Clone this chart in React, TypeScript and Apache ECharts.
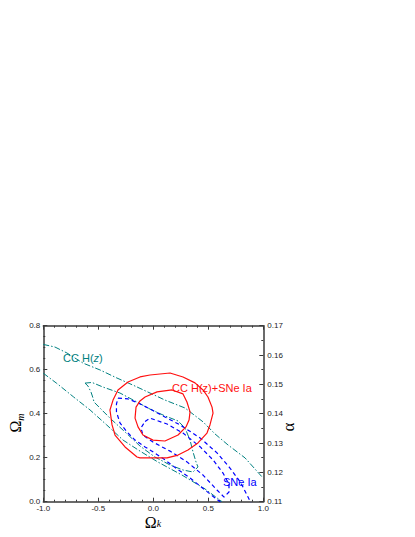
import React, { useEffect, useRef } from 'react';
import * as echarts from 'echarts';

type P = [number, number];

// Axis ranges / tick steps
const xRange: P = [-1.0, 1.0];
const yLeftRange: P = [0.0, 0.8];
const yRightRange: P = [0.11, 0.17];
const xStep = 0.5;
const yLeftStep = 0.2;
const yRightStep = 0.01;

// CC H(z)+SNe Ia contours (solid red)
const redOuter: P[] = [
  [-0.03, 0.576], [0.152, 0.585], [0.27, 0.567], [0.379, 0.54], [0.452, 0.508],
  [0.497, 0.476], [0.534, 0.43], [0.543, 0.403], [0.515, 0.349], [0.488, 0.312],
  [0.406, 0.267], [0.315, 0.235], [0.225, 0.212], [0.125, 0.199], [0.015, 0.199],
  [-0.121, 0.199], [-0.148, 0.203], [-0.257, 0.249], [-0.348, 0.303], [-0.375, 0.349],
  [-0.394, 0.417], [-0.366, 0.462], [-0.321, 0.508], [-0.23, 0.544], [-0.121, 0.567],
  [-0.03, 0.576],
];
const redInner: P[] = [
  [-0.075, 0.476], [0.034, 0.499], [0.17, 0.508], [0.27, 0.49], [0.306, 0.453],
  [0.334, 0.408], [0.325, 0.371], [0.297, 0.34], [0.225, 0.303], [0.106, 0.276],
  [-0.003, 0.28], [-0.094, 0.303], [-0.139, 0.34], [-0.166, 0.38], [-0.157, 0.43],
  [-0.121, 0.458], [-0.075, 0.476],
];

// CC H(z) contours (teal dash-dot)
const greenOuterUpper: P[] = [
  [-1.0, 0.715], [-0.894, 0.703], [-0.785, 0.676], [-0.639, 0.63], [-0.485, 0.599],
  [-0.33, 0.562], [-0.185, 0.53], [-0.03, 0.494], [0.106, 0.462], [0.288, 0.426],
  [0.452, 0.363], [0.561, 0.308], [0.679, 0.258], [0.834, 0.199], [0.997, 0.108],
];
const greenOuterLower: P[] = [
  [-1.0, 0.584], [-0.878, 0.538], [-0.727, 0.477], [-0.575, 0.417], [-0.424, 0.349],
  [-0.275, 0.28], [-0.121, 0.23], [0.043, 0.18], [0.261, 0.121], [0.47, 0.058],
  [0.625, 0.0],
];
const greenInner: P[] = [
  [-0.621, 0.539], [-0.557, 0.542], [-0.457, 0.521], [-0.303, 0.494], [-0.148, 0.453],
  [-0.03, 0.421], [0.106, 0.39], [0.225, 0.367], [0.288, 0.335], [0.334, 0.28],
  [0.361, 0.226], [0.388, 0.181], [0.406, 0.158], [0.361, 0.135], [0.27, 0.144],
  [0.152, 0.167], [0.015, 0.203], [-0.121, 0.253], [-0.257, 0.317], [-0.394, 0.38],
  [-0.539, 0.453], [-0.548, 0.471], [-0.566, 0.498], [-0.594, 0.526], [-0.621, 0.539],
];

// SNe Ia contours (blue dashed)
const blueOuter: P[] = [
  [-0.321, 0.471], [-0.23, 0.467], [-0.139, 0.449], [-0.012, 0.417], [0.106, 0.385],
  [0.243, 0.349], [0.425, 0.29], [0.579, 0.222], [0.697, 0.153], [0.797, 0.085],
  [0.861, 0.021], [0.897, -0.015], [0.652, -0.015], [0.606, 0.0], [0.47, 0.053],
  [0.334, 0.108], [0.215, 0.149], [0.106, 0.19], [0.015, 0.221], [-0.075, 0.249],
  [-0.166, 0.28], [-0.239, 0.317], [-0.303, 0.358], [-0.335, 0.408], [-0.335, 0.444],
  [-0.321, 0.471],
];
const blueInner: P[] = [
  [-0.075, 0.365], [-0.03, 0.38], [0.125, 0.353], [0.27, 0.312], [0.425, 0.25],
  [0.543, 0.19], [0.634, 0.13], [0.688, 0.08], [0.688, 0.044], [0.643, 0.021],
  [0.579, 0.053], [0.452, 0.121], [0.306, 0.181], [0.152, 0.23], [-0.003, 0.271],
  [-0.094, 0.303], [-0.112, 0.335], [-0.075, 0.365],
];

const RED = '#ff1010';
const BLUE = '#0000ff';
const TEAL = '#008080';
const AX = '#3a3a3a';

const labelFont = 'Liberation Sans, Arial, sans-serif';
const serif = 'Liberation Serif, Times New Roman, serif';

function axisCommon(split: number) {
  return {
    type: 'value' as const,
    axisLine: { show: true, onZero: false, lineStyle: { color: AX, width: 1.5 } },
    axisTick: { show: true, inside: true, length: 4, lineStyle: { color: AX, width: 1 } },
    minorTick: { show: true, splitNumber: split, length: 2, lineStyle: { color: AX, width: 1 } },
    splitLine: { show: false },
    minorSplitLine: { show: false },
  };
}

export default function App() {
  const ref = useRef<HTMLDivElement>(null);
  useEffect(() => {
    if (!ref.current) return;
    const chart = echarts.init(ref.current, undefined, { renderer: 'svg' });
    const lineSeries = (data: P[], color: string, type: any, width: number) => ({
      type: 'line',
      data,
      xAxisIndex: 0,
      yAxisIndex: 0,
      symbol: 'none',
      showSymbol: false,
      smooth: false,
      clip: true,
      silent: true,
      lineStyle: { color, width, type },
    });
    const dashDot = [6, 2, 1.5, 2];
    const dashed = [4, 3];
    chart.setOption({
      animation: false,
      backgroundColor: '#ffffff',
      grid: { left: 43.3, top: 325.7, width: 220, height: 176, containLabel: false },
      xAxis: [
        {
          ...axisCommon(5),
          position: 'bottom',
          min: xRange[0],
          max: xRange[1],
          interval: xStep,
          axisLabel: {
            show: true, fontSize: 8, color: '#222', margin: 3, fontFamily: labelFont,
            showMinLabel: true, showMaxLabel: true,
            formatter: (v: number) => v.toFixed(1),
          },
        },
        {
          ...axisCommon(5),
          position: 'top',
          min: xRange[0],
          max: xRange[1],
          interval: xStep,
          axisLabel: { show: false },
        },
      ],
      yAxis: [
        {
          ...axisCommon(4),
          position: 'left',
          min: yLeftRange[0],
          max: yLeftRange[1],
          interval: yLeftStep,
          axisLabel: {
            show: true, fontSize: 8, color: '#222', margin: 3, fontFamily: labelFont,
            showMinLabel: true, showMaxLabel: true,
            formatter: (v: number) => v.toFixed(1),
          },
        },
        {
          ...axisCommon(2),
          position: 'right',
          min: yRightRange[0],
          max: yRightRange[1],
          interval: yRightStep,
          axisLabel: {
            show: true, fontSize: 8, color: '#222', margin: 4, fontFamily: labelFont,
            showMinLabel: true, showMaxLabel: true,
            formatter: (v: number) => v.toFixed(2),
          },
        },
      ],
      series: [
        lineSeries(greenOuterUpper, TEAL, dashDot, 1),
        lineSeries(greenOuterLower, TEAL, dashDot, 1),
        lineSeries(greenInner, TEAL, dashDot, 1),
        lineSeries(blueOuter, BLUE, dashed, 1.2),
        lineSeries(blueInner, BLUE, dashed, 1.2),
        lineSeries(redOuter, RED, 'solid', 1.2),
        lineSeries(redInner, RED, 'solid', 1.2),
      ],
      graphic: [
        {
          type: 'text', x: 63, y: 358, z: 100,
          style: {
            text: '{a|CC H(}{b|z}{a|)}',
            verticalAlign: 'middle', align: 'left',
            rich: {
              a: { fontSize: 11, fontFamily: labelFont, fill: TEAL },
              b: { fontSize: 11, fontFamily: labelFont, fill: TEAL, fontStyle: 'italic' },
            },
          },
        },
        {
          type: 'text', x: 172, y: 388, z: 100,
          style: {
            text: 'CC H(z)+SNe Ia', fontSize: 11, fontFamily: labelFont, fill: RED,
            verticalAlign: 'middle', align: 'left',
          },
        },
        {
          type: 'text', x: 223, y: 482, z: 100,
          style: {
            text: 'SNe Ia', fontSize: 11, fontFamily: labelFont, fill: BLUE,
            verticalAlign: 'middle', align: 'left',
          },
        },
        {
          type: 'text', x: 153, y: 521.5, z: 100,
          style: {
            text: '{o|Ω}{s|k}',
            align: 'center', verticalAlign: 'middle',
            rich: {
              o: { fontSize: 16, fontFamily: serif, fill: '#000', lineHeight: 14, verticalAlign: 'top' },
              s: { fontSize: 10, fontFamily: serif, fill: '#000', fontStyle: 'italic', lineHeight: 7, verticalAlign: 'bottom' },
            },
          },
        },
        {
          type: 'text', x: 16, y: 423, z: 100, rotation: Math.PI / 2,
          style: {
            text: '{o|Ω}{s|m}',
            align: 'center', verticalAlign: 'middle',
            rich: {
              o: { fontSize: 16, fontFamily: serif, fill: '#000', lineHeight: 18, verticalAlign: 'top' },
              s: { fontSize: 10, fontFamily: serif, fill: '#000', fontStyle: 'italic', lineHeight: 8, verticalAlign: 'bottom' },
            },
          },
        },
        {
          type: 'text', x: 288, y: 427, z: 100, rotation: Math.PI / 2,
          style: {
            text: 'α', fontSize: 17, fontFamily: serif, fill: '#000',
            align: 'center', verticalAlign: 'middle',
          },
        },
      ],
    });
    return () => chart.dispose();
  }, []);
  return (
    <div
      ref={ref}
      style={{ position: 'fixed', left: 0, top: 0, width: 415, height: 537, background: '#fff' }}
    />
  );
}
